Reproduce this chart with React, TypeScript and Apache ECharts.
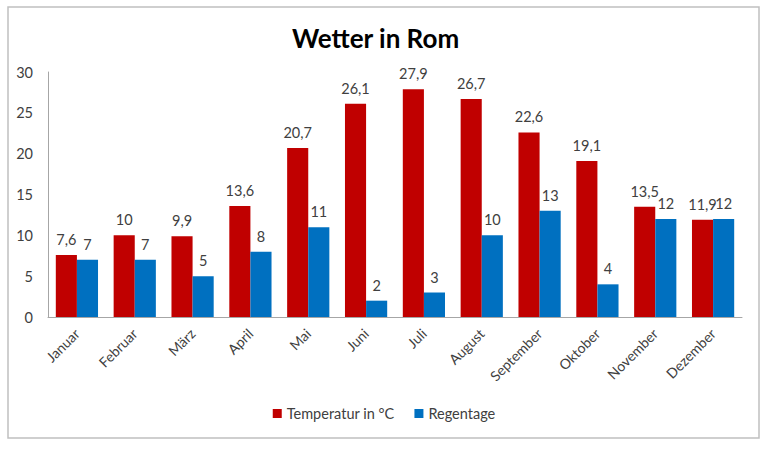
import React, { useEffect, useRef } from "react";
import * as echarts from "echarts";

const months = ["Januar", "Februar", "März", "April", "Mai", "Juni", "Juli", "August", "September", "Oktober", "November", "Dezember"];
const temperature = [7.6, 10, 9.9, 13.6, 20.7, 26.1, 27.9, 26.7, 22.6, 19.1, 13.5, 11.9];
const rainDays = [7, 7, 5, 8, 11, 2, 3, 10, 13, 4, 12, 12];
const yTicks = [0, 5, 10, 15, 20, 25, 30];

const FONT = "Lato, 'Open Sans', sans-serif";
const fmt = (v: number) => String(v).replace(".", ",");

export default function App() {
  const ref = useRef<HTMLDivElement>(null);
  useEffect(() => {
    if (!ref.current) return;
    const chart = echarts.init(ref.current, null, { renderer: "svg" });
    chart.setOption({
      animation: false,
      backgroundColor: "#fff",
      textStyle: { fontFamily: FONT },
      title: {
        text: "Wetter in Rom",
        left: 287,
        top: 20,
        textStyle: { fontFamily: FONT, fontWeight: "bold", fontSize: 26, color: "#000" },
      },
      graphic: [
        {
          type: "rect",
          shape: { x: 8, y: 7, width: 751, height: 431 },
          style: { fill: "none", stroke: "#c0c0c0", lineWidth: 1.5 },
          silent: true,
        },
      ],
      legend: {
        bottom: 23,
        left: "center",
        itemWidth: 9,
        itemHeight: 9,
        itemGap: 20,
        icon: "rect",
        textStyle: { fontFamily: FONT, fontSize: 14.5, color: "#404040" },
        data: ["Temperatur in °C", "Regentage"],
      },
      grid: { left: 48, right: 26, top: 72, bottom: 132 },
      xAxis: {
        type: "category",
        data: months,
        axisTick: { show: false },
        axisLine: { lineStyle: { color: "#a6a6a6" } },
        axisLabel: { rotate: 45, interval: 0, fontSize: 14, color: "#404040", fontFamily: FONT, margin: 14 },
      },
      yAxis: {
        type: "value",
        min: yTicks[0],
        max: yTicks[yTicks.length - 1],
        interval: 5,
        splitLine: { show: false },
        axisTick: { show: false },
        axisLine: { show: true, lineStyle: { color: "#a6a6a6" } },
        axisLabel: { fontSize: 14.5, color: "#404040", fontFamily: FONT, margin: 15 },
      },
      series: [
        {
          name: "Temperatur in °C",
          type: "bar",
          data: temperature,
          barGap: "0%",
          barCategoryGap: "27%",
          itemStyle: { color: "#c00000" },
          label: {
            show: true,
            position: "top",
            distance: 8,
            fontSize: 14.5,
            color: "#404040",
            fontFamily: FONT,
            formatter: (p: any) => fmt(p.value),
          },
        },
        {
          name: "Regentage",
          type: "bar",
          data: rainDays,
          itemStyle: { color: "#0070c0" },
          label: {
            show: true,
            position: "top",
            distance: 8,
            fontSize: 14.5,
            color: "#404040",
            fontFamily: FONT,
            formatter: (p: any) => fmt(p.value),
          },
        },
      ],
    });
    return () => chart.dispose();
  }, []);
  return <div ref={ref} style={{ width: 768, height: 449, position: "absolute", left: 0, top: 0 }} />;
}
